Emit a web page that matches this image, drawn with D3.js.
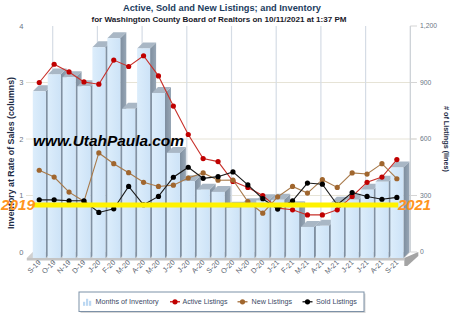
<!DOCTYPE html>
<html>
<head>
<meta charset="utf-8">
<script src="https://cdn.jsdelivr.net/npm/d3@7"></script>
<style>
  html, body { margin: 0; padding: 0; background: #fff; }
  svg { display: block; font-family: Arial, "Liberation Sans", sans-serif; }
</style>
</head>
<body>
<svg id="chart" width="460" height="323"></svg>
<script>
// Monthly categories
const months = ["S-19","O-19","N-19","D-19","J-20","F-20","M-20","A-20","M-20","J-20","J-20","A-20",
                "S-20","O-20","N-20","D-20","J-21","F-21","M-21","A-21","M-21","J-21","J-21","A-21","S-21"];
// Months of inventory at rate of sales (columns, left axis)
const inventory = [2.95,3.25,3.20,3.04,3.73,3.89,2.64,3.71,2.92,1.86,1.36,1.21,
                   1.17,0.89,0.95,1.02,1.03,0.90,0.55,0.57,0.98,1.03,1.21,1.35,1.60];
// Listing counts (lines, right axis)
const activeListings = [900,997,956,903,891,1019,985,1042,935,775,624,496,
                        480,375,343,300,233,224,197,197,224,295,370,398,491];
const newListings    = [434,398,318,269,526,469,421,370,348,355,393,420,
                        381,382,268,206,293,348,313,384,343,420,414,469,389];
const soldListings   = [277,277,272,272,210,229,348,251,295,397,450,391,
                        400,425,356,283,228,272,366,360,251,316,295,280,290];
// Axis ticks
const inventoryTicks = [0,1,2,3,4];
const listingTicks = [0,300,600,900,1200];
// Highlight band across the chart (inventory units) and its end labels
const referenceLevel = 0.83;
const yearLabels = ["2019","2021"];

const svg = d3.select("#chart");
const depth = 6;                       // 3D offset of the back wall
const n = months.length;

const x = d3.scaleBand().domain(d3.range(n)).range([31.8, 404.3]).padding(0);
const yInv = d3.scaleLinear().domain([0, 4]).range([252, 26]);      // back wall
const yList = d3.scaleLinear().domain([0, 1200]).range([252, 26]);
const frontBase = yInv(0) + depth;
const barW = x.bandwidth() - 1.9;
const cx = i => x(i) + x.bandwidth() / 2;

// Scale a text's font so that it spans the given width
function fit(sel, width) {
  const node = sel.node();
  const fs = parseFloat(sel.attr("font-size"));
  const len = node.getComputedTextLength();
  if (len > 0) sel.attr("font-size", (fs * width / len).toFixed(2));
  return sel;
}

// Gradients for column faces
const defs = svg.append("defs");
const g1 = defs.append("linearGradient").attr("id", "colFront").attr("x1", 0).attr("x2", 1).attr("y1", 0).attr("y2", 0);
g1.append("stop").attr("offset", "0%").attr("stop-color", "#dcedfb");
g1.append("stop").attr("offset", "100%").attr("stop-color", "#cde3f7");
const g2 = defs.append("linearGradient").attr("id", "colSide").attr("x1", 0).attr("x2", 1).attr("y1", 0).attr("y2", 0);
g2.append("stop").attr("offset", "0%").attr("stop-color", "#7d8d9e");
g2.append("stop").attr("offset", "100%").attr("stop-color", "#97a6b5");

// Horizontal gridlines on the back wall
svg.append("g").selectAll("line").data(inventoryTicks.filter(t => t > 0 && t < 4)).join("line")
  .attr("x1", 26).attr("x2", 416)
  .attr("y1", d => yInv(d)).attr("y2", d => yInv(d))
  .attr("stroke", "#e6e3d6").attr("stroke-width", 1);

// Vertical gridlines every third month on the back wall
const vIdx = d3.range(1, n + 1, 3);
svg.append("g").selectAll("line").data(vIdx).join("line")
  .attr("x1", d => x.range()[0] + d * x.step() + depth)
  .attr("x2", d => x.range()[0] + d * x.step() + depth)
  .attr("y1", yInv(4)).attr("y2", yInv(0))
  .attr("stroke", d => d === n ? "#c9ced4" : "#d5dce5").attr("stroke-width", 1.2);

// Right axis small ticks
svg.append("g").selectAll("line").data(listingTicks).join("line")
  .attr("x1", x.range()[1] + depth).attr("x2", 417)
  .attr("y1", d => yList(d)).attr("y2", d => yList(d))
  .attr("stroke", "#d5d5d5");

// Floor slab
const fx0 = x.range()[0] - 5, fx1 = x.range()[1];
svg.append("polygon")
  .attr("points", [[fx0, frontBase], [fx0 + depth, frontBase - depth], [fx1 + depth, frontBase - depth], [fx1, frontBase]].join(" "))
  .attr("fill", "#d0d0d0");
svg.append("rect").attr("x", fx0).attr("y", frontBase).attr("width", fx1 - fx0).attr("height", 2.5).attr("fill", "#c4c4c4");
svg.append("polygon")
  .attr("points", [[fx1, frontBase], [fx1 + depth + 8, frontBase - depth], [fx1 + depth + 8, frontBase - depth + 4], [fx1 + 3, frontBase + 8], [fx1, frontBase + 8]].join(" "))
  .attr("fill", "#a4a4a4");

// 3D columns, painted left to right
const bars = svg.append("g");
inventory.forEach((v, i) => {
  const x0 = x(i) + 1, yt = yInv(v) + depth, yb = frontBase;
  const g = bars.append("g");
  g.append("polygon")
    .attr("points", [[x0 + barW, yt], [x0 + barW + depth, yt - depth], [x0 + barW + depth, yb - depth], [x0 + barW, yb]].join(" "))
    .attr("fill", "url(#colSide)");
  g.append("polygon")
    .attr("points", [[x0, yt], [x0 + depth, yt - depth], [x0 + barW + depth, yt - depth], [x0 + barW, yt]].join(" "))
    .attr("fill", "#a9b7c5");
  g.append("rect").attr("x", x0).attr("y", yt).attr("width", barW).attr("height", yb - yt)
    .attr("fill", "url(#colFront)");
});

// Listing lines
const line = d3.line().x((d, i) => cx(i)).y(d => yList(d));
const series = [
  { name: "Active Listings", data: activeListings, line: "#c8302a", dot: "#c00000" },
  { name: "New Listings", data: newListings, line: "#a87a4a", dot: "#a0662e" },
  { name: "Sold Listings", data: soldListings, line: "#1a1a1a", dot: "#000000" }
];
series.forEach(s => {
  svg.append("path").datum(s.data).attr("d", line)
    .attr("fill", "none").attr("stroke", s.line).attr("stroke-width", 1.1);
  svg.append("g").selectAll("circle").data(s.data).join("circle")
    .attr("cx", (d, i) => cx(i)).attr("cy", d => yList(d)).attr("r", 2.6)
    .attr("fill", s.dot);
});

// Left axis labels
svg.append("g").selectAll("text").data(inventoryTicks).join("text")
  .attr("x", 23.5).attr("y", d => yInv(d)).attr("dy", "0.35em")
  .attr("text-anchor", "end").attr("font-size", 7.5).attr("fill", "#6b7685")
  .text(d => d);

// Right axis labels
const rLabels = svg.append("g").selectAll("text").data(listingTicks).join("text")
  .attr("x", 420).attr("y", d => yList(d)).attr("dy", "0.35em")
  .attr("text-anchor", "start").attr("font-size", 7).attr("fill", "#6b7685")
  .text(d => d3.format(",")(d));
fit(rLabels.filter(d => d === 1200), 17);
rLabels.attr("font-size", rLabels.filter(d => d === 1200).attr("font-size"));

// Month labels
svg.append("g").selectAll("text").data(months).join("text")
  .attr("transform", (d, i) => `translate(${cx(i) + 2},${frontBase + 5}) rotate(-45)`)
  .attr("text-anchor", "end").attr("font-size", 7.2).attr("fill", "#5a6470")
  .text(d => d);

// Axis titles
fit(svg.append("text")
  .attr("transform", `translate(14,153) rotate(-90)`)
  .attr("text-anchor", "middle").attr("font-size", 7.3).attr("font-weight", "bold").attr("fill", "#1d2b45")
  .text("Inventory at Rate of Sales (columns)"), 152);
fit(svg.append("text")
  .attr("transform", `translate(444,139) rotate(90)`)
  .attr("text-anchor", "middle").attr("font-size", 7.3).attr("font-weight", "bold").attr("fill", "#1d2b45")
  .text("# of Listings (lines)"), 66);

// Titles
fit(svg.append("text").attr("x", 222).attr("y", 11).attr("text-anchor", "middle")
  .attr("font-size", 9.3).attr("font-weight", "bold").attr("fill", "#1c3d5e")
  .text("Active, Sold and New Listings; and Inventory"), 198);
fit(svg.append("text").attr("x", 219).attr("y", 22).attr("text-anchor", "middle")
  .attr("font-size", 7.4).attr("font-weight", "bold").attr("fill", "#1a1a2a")
  .text("for Washington County Board of Realtors on 10/11/2021 at 1:37 PM"), 255);

// Watermark
fit(svg.append("text").attr("x", 33).attr("y", 145.5)
  .attr("font-size", 15.5).attr("font-weight", "bold").attr("font-style", "italic").attr("fill", "#000")
  .text("www.UtahPaula.com"), 151);

// Highlight band with year labels
svg.append("line")
  .attr("x1", x.range()[0] + 2).attr("x2", x.range()[1] - 6)
  .attr("y1", yInv(referenceLevel)).attr("y2", yInv(referenceLevel))
  .attr("stroke", "#fff200").attr("stroke-width", 5);
fit(svg.append("text").attr("x", 1).attr("y", yInv(referenceLevel) + 5)
  .attr("font-size", 15.5).attr("font-weight", "bold").attr("font-style", "italic").attr("fill", "#ff9420")
  .text(yearLabels[0]), 34);
fit(svg.append("text").attr("x", 398).attr("y", yInv(referenceLevel) + 5)
  .attr("font-size", 15.5).attr("font-weight", "bold").attr("font-style", "italic").attr("fill", "#ff9420")
  .text(yearLabels[1]), 33);

// Legend
const lg = svg.append("g");
lg.append("rect").attr("x", 80.5).attr("y", 293.5).attr("width", 285).attr("height", 19.5).attr("fill", "#d6d6d6");
lg.append("rect").attr("x", 79).attr("y", 292).attr("width", 285).attr("height", 19.5)
  .attr("fill", "#fff").attr("stroke", "#7d91a7").attr("stroke-width", 1);
const ly = 301.8;
// column icon
[[83, 4], [86, 7], [89, 5]].forEach(([bx, bh]) => {
  lg.append("rect").attr("x", bx).attr("y", ly + 4 - bh).attr("width", 2.2).attr("height", bh).attr("fill", "#bcd8f2");
});
fit(lg.append("text").attr("x", 95.5).attr("y", ly).attr("dy", "0.35em").attr("font-size", 7.2).attr("fill", "#3b4a66")
  .text("Months of Inventory"), 63);
const legendItems = [
  { s: series[0], mx: 175, tx: 182.5, w: 45 },
  { s: series[1], mx: 242.5, tx: 251.5, w: 40.6 },
  { s: series[2], mx: 307.5, tx: 316, w: 40.7 }
];
legendItems.forEach(it => {
  lg.append("line").attr("x1", it.mx - 5).attr("x2", it.mx + 5).attr("y1", ly).attr("y2", ly)
    .attr("stroke", it.s.dot).attr("stroke-width", 1.2);
  lg.append("circle").attr("cx", it.mx).attr("cy", ly).attr("r", 2.6).attr("fill", it.s.dot);
  fit(lg.append("text").attr("x", it.tx).attr("y", ly).attr("dy", "0.35em").attr("font-size", 7.2).attr("fill", "#3b4a66")
    .text(it.s.name), it.w);
});
</script>
</body>
</html>
